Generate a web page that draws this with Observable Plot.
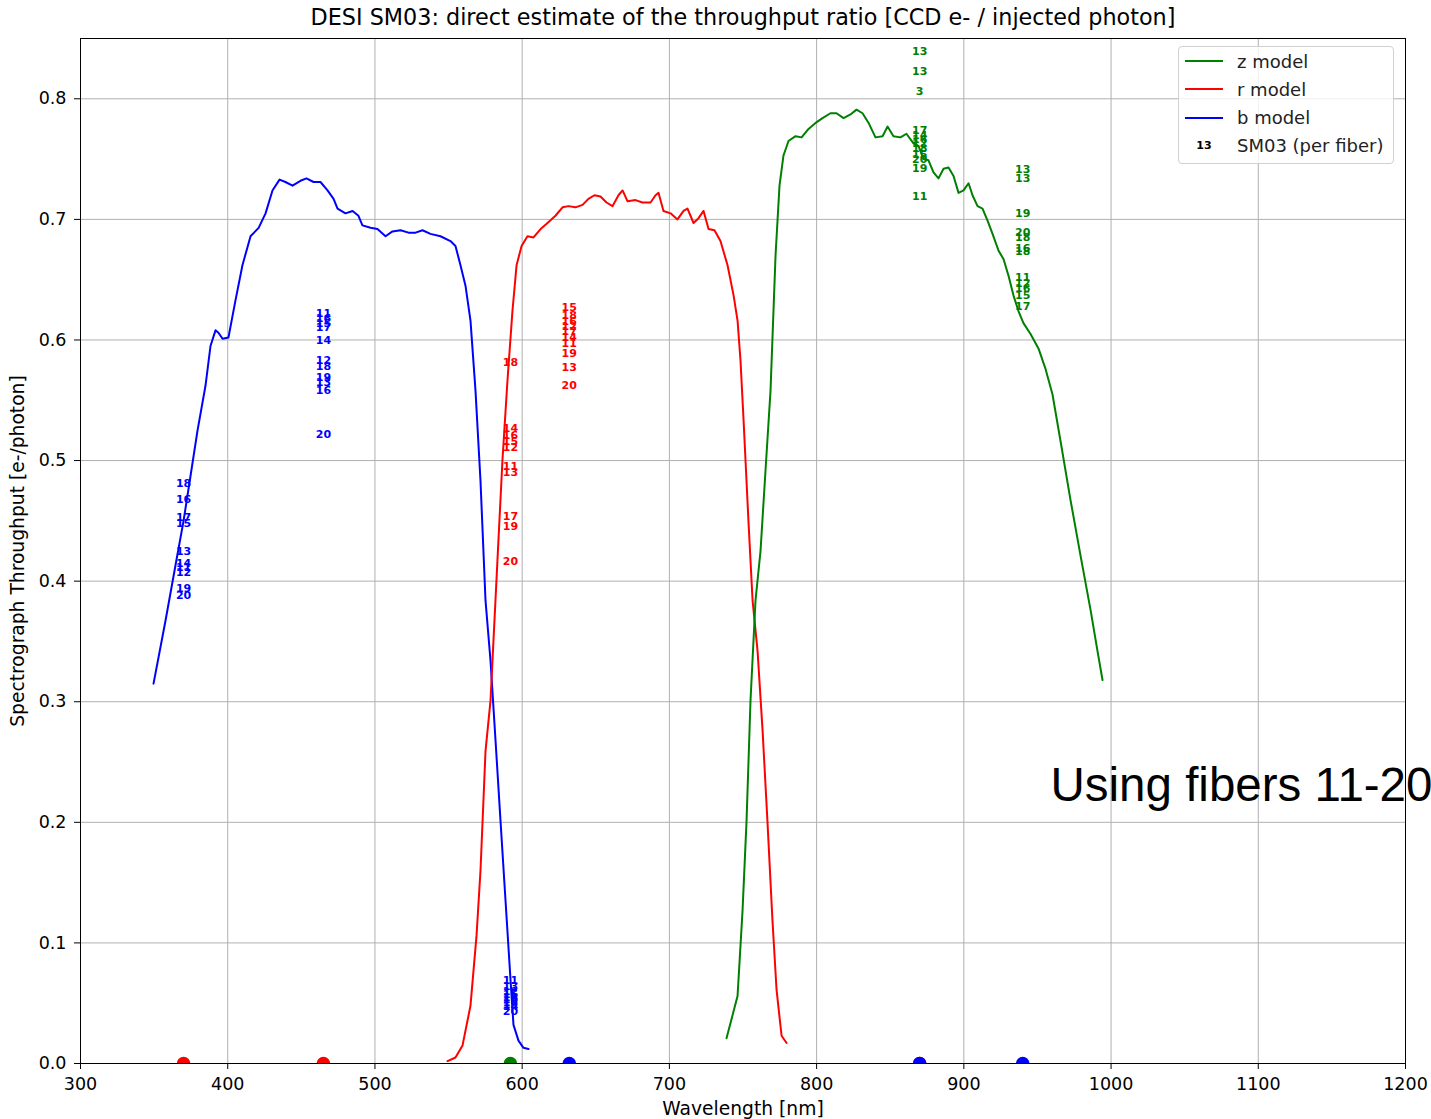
<!DOCTYPE html>
<html>
<head>
<meta charset="utf-8">
<script src="https://cdn.jsdelivr.net/npm/d3@7"></script>
<script src="https://cdn.jsdelivr.net/npm/@observablehq/plot@0.6"></script>
<style>
  html, body { margin: 0; padding: 0; background: white; }
  #wrap { position: relative; width: 1431px; height: 1119px; overflow: hidden; }
  #legend { position: absolute; left: 1178px; top: 46px; width: 216px; height: 118px;
    border: 1px solid #d0d0d0; border-radius: 4px; background: rgba(255,255,255,0.8);
    font-family: "DejaVu Sans", sans-serif; font-size: 18px; color: #222; box-sizing: border-box; }
  #legend .row { position: absolute; left: 0; height: 28px; display: flex; align-items: center; }
  #legend .sw { width: 38px; height: 2px; margin-left: 6px; margin-right: 14px; }
  #legend .tx { width: 38px; margin-left: 6px; margin-right: 14px; text-align: center; font-size: 11px; font-weight: bold; color: #000; }
  g.fiber text { transform-box: fill-box; transform-origin: center; transform: scaleX(0.78); }
</style>
</head>
<body>
<div id="wrap"></div>
<script>
// ---- model curves (wavelength nm, throughput) ----
const bWave = [349.6,357.7,364.5,370,374.7,379.5,384.9,388.3,391.7,393.7,396.5,400.5,405.3,410,415.5,421,425.7,430.4,435.2,439.2,444,449.4,453.5,458.3,463,467.8,471.9,474.6,480,484.8,488.8,491.5,497,501.7,507.2,511.9,517.4,522.8,527.6,532.3,537.7,544.5,551.3,554.7,558.1,561.5,564.9,568.3,571.7,575.1,578.5,581.9,585.3,588.7,592.1,594.1,597.5,600.9,604.3];
const bThru = [0.315,0.367,0.413,0.450,0.487,0.525,0.562,0.595,0.608,0.606,0.601,0.602,0.633,0.662,0.686,0.693,0.705,0.724,0.733,0.731,0.728,0.732,0.734,0.731,0.731,0.724,0.717,0.709,0.705,0.707,0.703,0.695,0.693,0.692,0.686,0.690,0.691,0.689,0.689,0.691,0.688,0.686,0.682,0.678,0.662,0.645,0.616,0.558,0.483,0.384,0.334,0.268,0.201,0.135,0.069,0.032,0.019,0.013,0.012];

const rWave = [549.3,554.7,559.5,564.9,569,571.7,575.1,578.5,583.2,586.6,590,593.4,596.2,599.6,603.6,607.7,612.5,617.2,622.6,627.4,631.5,636.2,641,645,649.1,653.2,657.3,661.4,665.4,668.2,671.6,677,681.7,687.2,690.6,692.6,696,700.8,705.5,709.6,712.3,716.4,719.8,723.2,726.6,730.6,734.7,739.5,743.6,746.3,748.3,750.4,753.7,756.5,759.9,763.3,766.6,770,772.8,776.2,779.6];
const rThru = [0.002,0.005,0.015,0.048,0.106,0.160,0.259,0.301,0.417,0.500,0.566,0.624,0.662,0.678,0.686,0.685,0.692,0.697,0.703,0.710,0.711,0.710,0.712,0.717,0.720,0.719,0.714,0.711,0.720,0.724,0.715,0.716,0.714,0.714,0.720,0.722,0.707,0.705,0.700,0.707,0.709,0.697,0.701,0.707,0.692,0.691,0.682,0.662,0.637,0.616,0.583,0.533,0.450,0.384,0.342,0.276,0.201,0.119,0.061,0.023,0.017];

const zWave = [738.8,742.9,746.3,749.7,752.4,755.1,758.5,761.9,765.3,768.7,772.1,774.8,777.5,780.9,785.7,789.8,794.5,799.3,804,809.4,813.5,818.3,823,827.1,831.2,835.3,840,844.8,848.2,852.2,857,861,865.8,869.2,872.6,876,879.4,882.8,886.2,889.6,893,896.4,899.8,903.2,905.9,909.3,912.7,916.1,919.5,923.6,927,930.4,933.7,937.1,940.5,945.3,950.7,955.5,960.2,965.7,972.5,979.3,986.1,990.8,994.2];
const zThru = [0.021,0.040,0.056,0.127,0.201,0.301,0.384,0.425,0.492,0.558,0.670,0.728,0.753,0.765,0.769,0.768,0.775,0.780,0.784,0.788,0.788,0.784,0.787,0.791,0.788,0.780,0.768,0.769,0.777,0.769,0.768,0.771,0.763,0.761,0.750,0.749,0.739,0.734,0.742,0.743,0.736,0.722,0.724,0.730,0.720,0.711,0.709,0.699,0.688,0.674,0.667,0.653,0.637,0.624,0.614,0.605,0.593,0.576,0.555,0.516,0.467,0.421,0.376,0.342,0.318];

// ---- per-fiber measurements: [wavelength, fiber label, throughput] ----
const bFibers = [
  [370,"18",0.481],[370,"16",0.468],[370,"17",0.453],[370,"15",0.448],[370,"13",0.425],
  [370,"14",0.415],[370,"11",0.411],[370,"12",0.407],[370,"19",0.394],[370,"20",0.388],
  [465,"11",0.622],[465,"16",0.618],[465,"15",0.614],[465,"17",0.610],[465,"14",0.600],
  [465,"12",0.583],[465,"18",0.578],[465,"19",0.569],[465,"13",0.565],[465,"16",0.558],[465,"20",0.522],
  [592,"11",0.069],[592,"13",0.064],[592,"12",0.060],[592,"15",0.057],[592,"18",0.055],
  [592,"16",0.053],[592,"17",0.051],[592,"19",0.049],[592,"14",0.047],[592,"20",0.043]
];
const rFibers = [
  [592,"18",0.581],[592,"14",0.527],[592,"16",0.521],[592,"15",0.516],[592,"12",0.511],
  [592,"11",0.495],[592,"13",0.490],[592,"17",0.454],[592,"19",0.445],[592,"20",0.416],
  [632,"15",0.627],[632,"18",0.620],[632,"16",0.615],[632,"12",0.611],[632,"17",0.607],
  [632,"14",0.602],[632,"11",0.597],[632,"19",0.589],[632,"13",0.577],[632,"20",0.562]
];
const zFibers = [
  [870,"13",0.839],[870,"13",0.823],[870,"3",0.806],
  [870,"17",0.774],[870,"14",0.770],[870,"16",0.766],[870,"12",0.763],[870,"18",0.759],
  [870,"15",0.754],[870,"20",0.750],[870,"19",0.742],[870,"11",0.719],
  [940,"13",0.741],[940,"13",0.734],[940,"19",0.705],[940,"20",0.689],[940,"18",0.685],
  [940,"16",0.676],[940,"18",0.673],[940,"11",0.652],[940,"12",0.647],[940,"16",0.643],
  [940,"15",0.637],[940,"17",0.628]
];
// ---- markers on the x axis: [wavelength, band] ----
const zeroDots = [[370,"r"],[465,"r"],[592,"g"],[632,"b"],[870,"r"],[870,"b"],[940,"b"]];

const xTicks = [300,400,500,600,700,800,900,1000,1100,1200];
const yTicks = [0,0.1,0.2,0.3,0.4,0.5,0.6,0.7,0.8];

const C = {b: "#0000ff", r: "#ff0000", g: "#008000"};
const zip = (xs, ys) => xs.map((x, i) => ({x, y: ys[i]}));
const fib = arr => arr.map(([x, t, y]) => ({x, t, y}));
const fiberOpts = fill => ({x: "x", y: "y", text: "t", fill, fontSize: 11, fontWeight: "bold", ariaLabel: "fiber"});

const plot = Plot.plot({
  width: 1431, height: 1119,
  marginLeft: 80, marginRight: 26, marginTop: 38, marginBottom: 56,
  style: {fontFamily: "DejaVu Sans, sans-serif", fontSize: "17.5px", background: "white", color: "#000", overflow: "hidden"},
  x: {domain: [300, 1200]},
  y: {domain: [0, 0.85]},
  marks: [
    Plot.gridX(xTicks, {stroke: "#b0b0b0", strokeOpacity: 1, strokeWidth: 1}),
    Plot.gridY(yTicks, {stroke: "#b0b0b0", strokeOpacity: 1, strokeWidth: 1}),
    Plot.line(zip(bWave, bThru), {x: "x", y: "y", stroke: C.b, strokeWidth: 2}),
    Plot.line(zip(rWave, rThru), {x: "x", y: "y", stroke: C.r, strokeWidth: 2}),
    Plot.line(zip(zWave, zThru), {x: "x", y: "y", stroke: C.g, strokeWidth: 2}),
    Plot.text(fib(bFibers), fiberOpts(C.b)),
    Plot.text(fib(rFibers), fiberOpts(C.r)),
    Plot.text(fib(zFibers), fiberOpts(C.g)),
    Plot.dot(zeroDots.map(([x, c]) => ({x, y: 0, c})), {x: "x", y: "y", r: 6, fill: d => C[d.c], stroke: d => C[d.c], clip: true}),
    Plot.frame({stroke: "#000", strokeWidth: 1}),
    Plot.axisX({ticks: xTicks, tickSize: 6, tickPadding: 8, tickFormat: d => String(d), label: null}),
    Plot.axisY({ticks: yTicks, tickSize: 6, tickPadding: 8, tickFormat: d3.format(".1f"), label: null}),
    Plot.text(["Wavelength [nm]"], {frameAnchor: "bottom", dy: 46, fontSize: 18.7, lineAnchor: "middle"}),
    Plot.text(["Spectrograph Throughput [e-/photon]"], {frameAnchor: "left", dx: -62, rotate: -90, fontSize: 18.7, textAnchor: "middle", lineAnchor: "middle"}),
    Plot.text(["DESI SM03: direct estimate of the throughput ratio [CCD e- / injected photon]"], {frameAnchor: "top", dy: -21, fontSize: 22.3, lineAnchor: "middle"}),
    Plot.text(["Using fibers 11-20"], {frameAnchor: "top-left", dx: 970, dy: 762, textAnchor: "start", lineAnchor: "bottom", fontSize: 47.5, fontFamily: "Liberation Sans, Arial, sans-serif"})
  ]
});

plot.querySelectorAll('g[aria-label="fiber"]').forEach(g => g.classList.add("fiber"));

const wrap = document.getElementById("wrap");
wrap.appendChild(plot);

const legend = document.createElement("div");
legend.id = "legend";
const rows = [
  {k: "line", c: C.g, t: "z model"},
  {k: "line", c: C.r, t: "r model"},
  {k: "line", c: C.b, t: "b model"},
  {k: "text", c: "#000", t: "SM03 (per fiber)"}
];
rows.forEach((r, i) => {
  const row = document.createElement("div");
  row.className = "row";
  row.style.top = (0 + i * 28.3) + "px";
  if (r.k === "line") {
    const sw = document.createElement("div");
    sw.className = "sw"; sw.style.background = r.c;
    row.appendChild(sw);
  } else {
    const tx = document.createElement("div");
    tx.className = "tx"; tx.textContent = "13";
    row.appendChild(tx);
  }
  const lab = document.createElement("span");
  lab.textContent = r.t;
  row.appendChild(lab);
  legend.appendChild(row);
});
wrap.appendChild(legend);
</script>
</body>
</html>
